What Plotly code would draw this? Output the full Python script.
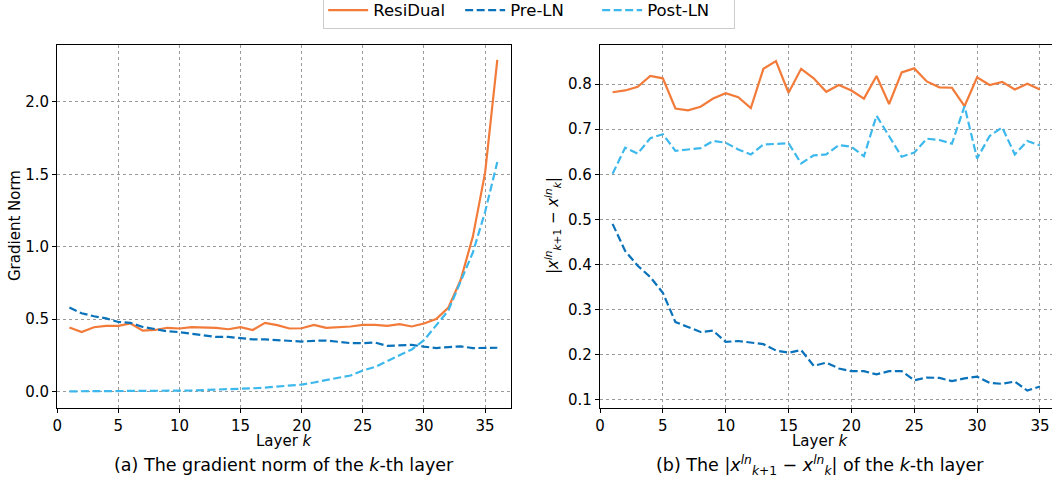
import plotly.graph_objects as go

# ---------------- data ----------------
layers_a = list(range(1, 37))
resi_a = [0.442, 0.41, 0.444, 0.453, 0.453, 0.47, 0.42, 0.425, 0.44, 0.435,
          0.445, 0.445, 0.44, 0.43, 0.445, 0.425, 0.474, 0.458, 0.435, 0.437,
          0.46, 0.44, 0.445, 0.449, 0.46, 0.46, 0.453, 0.465, 0.449, 0.47,
          0.50, 0.58, 0.77, 1.07, 1.51, 2.29]
pre_a = [0.58, 0.54, 0.52, 0.505, 0.48, 0.474, 0.446, 0.43, 0.416, 0.41,
         0.40, 0.389, 0.377, 0.377, 0.368, 0.36, 0.36, 0.354, 0.35, 0.345,
         0.35, 0.352, 0.343, 0.334, 0.334, 0.338, 0.315, 0.32, 0.322, 0.31,
         0.30, 0.307, 0.312, 0.30, 0.30, 0.302]
post_a = [0.001, 0.001, 0.001, 0.002, 0.002, 0.003, 0.003, 0.004, 0.005, 0.006,
          0.007, 0.009, 0.011, 0.014, 0.018, 0.022, 0.027, 0.033, 0.04, 0.048,
          0.062, 0.08, 0.095, 0.11, 0.145, 0.17, 0.21, 0.245, 0.29, 0.354,
          0.458, 0.56, 0.76, 0.96, 1.24, 1.585]

layers_b = list(range(1, 36))
resi_b = [0.782, 0.786, 0.794, 0.818, 0.813, 0.746, 0.742, 0.75, 0.768, 0.780,
          0.771, 0.747, 0.834, 0.851, 0.781, 0.834, 0.813, 0.783, 0.798, 0.786,
          0.768, 0.818, 0.756, 0.826, 0.835, 0.806, 0.793, 0.792, 0.751, 0.815,
          0.798, 0.805, 0.788, 0.801, 0.788]
pre_b = [0.49, 0.43, 0.397, 0.372, 0.337, 0.272, 0.261, 0.250, 0.253, 0.228,
         0.23, 0.227, 0.223, 0.209, 0.204, 0.21, 0.175, 0.182, 0.169, 0.163,
         0.163, 0.156, 0.163, 0.163, 0.143, 0.149, 0.148, 0.141, 0.147, 0.151,
         0.137, 0.135, 0.14, 0.12, 0.129]
post_b = [0.601, 0.659, 0.646, 0.68, 0.689, 0.652, 0.655, 0.658, 0.674, 0.670,
          0.655, 0.644, 0.666, 0.668, 0.669, 0.624, 0.642, 0.644, 0.665, 0.661,
          0.64, 0.730, 0.685, 0.639, 0.648, 0.679, 0.676, 0.668, 0.751, 0.635,
          0.685, 0.704, 0.644, 0.674, 0.664]

series_names = ["ResiDual", "Pre-LN", "Post-LN"]
x_ticks = [0, 5, 10, 15, 20, 25, 30, 35]
y_ticks_a = [0.0, 0.5, 1.0, 1.5, 2.0]
y_ticks_b = [0.1, 0.2, 0.3, 0.4, 0.5, 0.6, 0.7, 0.8]

# ---------------- style ----------------
C_RESI = "#F27B3A"
C_PRE = "#0A72BA"
C_POST = "#3DB8EC"
FONT = "DejaVu Sans"
W, H = 1052, 482
DASH = "8px,3.5px"

fig = go.Figure()

def add(x, y, name, color, dash, xa, ya, show):
    fig.add_trace(go.Scatter(
        x=x, y=y, mode="lines", name=name, legendgroup=name, showlegend=show,
        line=dict(color=color, width=2.2, dash=dash), xaxis=xa, yaxis=ya))

add(layers_a, resi_a, series_names[0], C_RESI, "solid", "x", "y", True)
add(layers_a, pre_a, series_names[1], C_PRE, DASH, "x", "y", True)
add(layers_a, post_a, series_names[2], C_POST, DASH, "x", "y", True)
add(layers_b, resi_b, series_names[0], C_RESI, "solid", "x2", "y2", False)
add(layers_b, pre_b, series_names[1], C_PRE, DASH, "x2", "y2", False)
add(layers_b, post_b, series_names[2], C_POST, DASH, "x2", "y2", False)

def px2fx(px):
    return px / W

def py2fy(py):
    return 1 - py / H

top, bottom = 44.5, 407.7
ydom = [py2fy(bottom), py2fy(top)]

axis_common = dict(
    showline=True, linecolor="black", linewidth=1.3,
    ticks="outside", ticklen=4, tickcolor="black", tickwidth=1,
    showgrid=True, gridcolor="#9a9a9a", griddash="dot", gridwidth=1,
    zeroline=False, automargin=False,
    tickfont=dict(family=FONT, size=15, color="black"),
)

fig.update_layout(
    width=W, height=H,
    margin=dict(l=0, r=0, t=0, b=0, autoexpand=False),
    paper_bgcolor="white", plot_bgcolor="white",
    font=dict(family=FONT, size=15, color="black"),
    xaxis=dict(domain=[px2fx(57.2), px2fx(511)], range=[0, 37.12],
               tickvals=x_ticks, mirror=True, anchor="y", **axis_common),
    yaxis=dict(domain=ydom, range=[-0.112, 2.397], tickvals=y_ticks_a,
               ticktext=[f"{v:.1f}" for v in y_ticks_a], mirror=True, anchor="x",
               **axis_common),
    xaxis2=dict(domain=[px2fx(600), 1.0], range=[0, 35.96],
                tickvals=x_ticks, mirror=True, anchor="y2", **axis_common),
    yaxis2=dict(domain=ydom, range=[0.082, 0.888], tickvals=y_ticks_b,
                ticktext=[f"{v:.1f}" for v in y_ticks_b], mirror=False, anchor="x2",
                **axis_common),
    legend=dict(orientation="h", x=0.503, xanchor="center", y=1.017, yanchor="top",
                font=dict(family=FONT, size=16.5, color="black"),
                bordercolor="#cccccc", borderwidth=1, bgcolor="white",
                itemwidth=40, entrywidth=82, entrywidthmode="pixels",
                tracegroupgap=0),
    showlegend=True,
)

ann = [
    dict(text="Layer <i>k</i>", x=px2fx(284), y=py2fy(441)),
    dict(text="Layer <i>k</i>", x=px2fx(820), y=py2fy(441)),
    dict(text="(a) The gradient norm of the <i>k</i>-th layer", x=px2fx(284), y=py2fy(465), size=17.5),
    dict(text="(b) The |<i>x</i><sup><i>ln</i></sup><sub><i>k</i>+1</sub> − <i>x</i><sup><i>ln</i></sup><sub><i>k</i></sub>| of the <i>k</i>-th layer",
         x=px2fx(820), y=py2fy(465), size=17.5),
    dict(text="Gradient Norm", x=px2fx(15), y=py2fy(226), angle=-90),
    dict(text="|<i>x</i><sup><i>ln</i></sup><sub><i>k</i>+1</sub> − <i>x</i><sup><i>ln</i></sup><sub><i>k</i></sub>|",
         x=px2fx(552), y=py2fy(226), angle=-90),
]
for a in ann:
    fig.add_annotation(
        text=a["text"], x=a["x"], y=a["y"], xref="paper", yref="paper",
        xanchor="center", yanchor="middle", showarrow=False,
        textangle=a.get("angle", 0),
        font=dict(family=FONT, size=a.get("size", 15), color="black"))

fig.write_html(
    "out.html",
    config={"displayModeBar": False},
    post_script="document.body.style.margin='0';document.body.style.overflow='hidden';",
)
